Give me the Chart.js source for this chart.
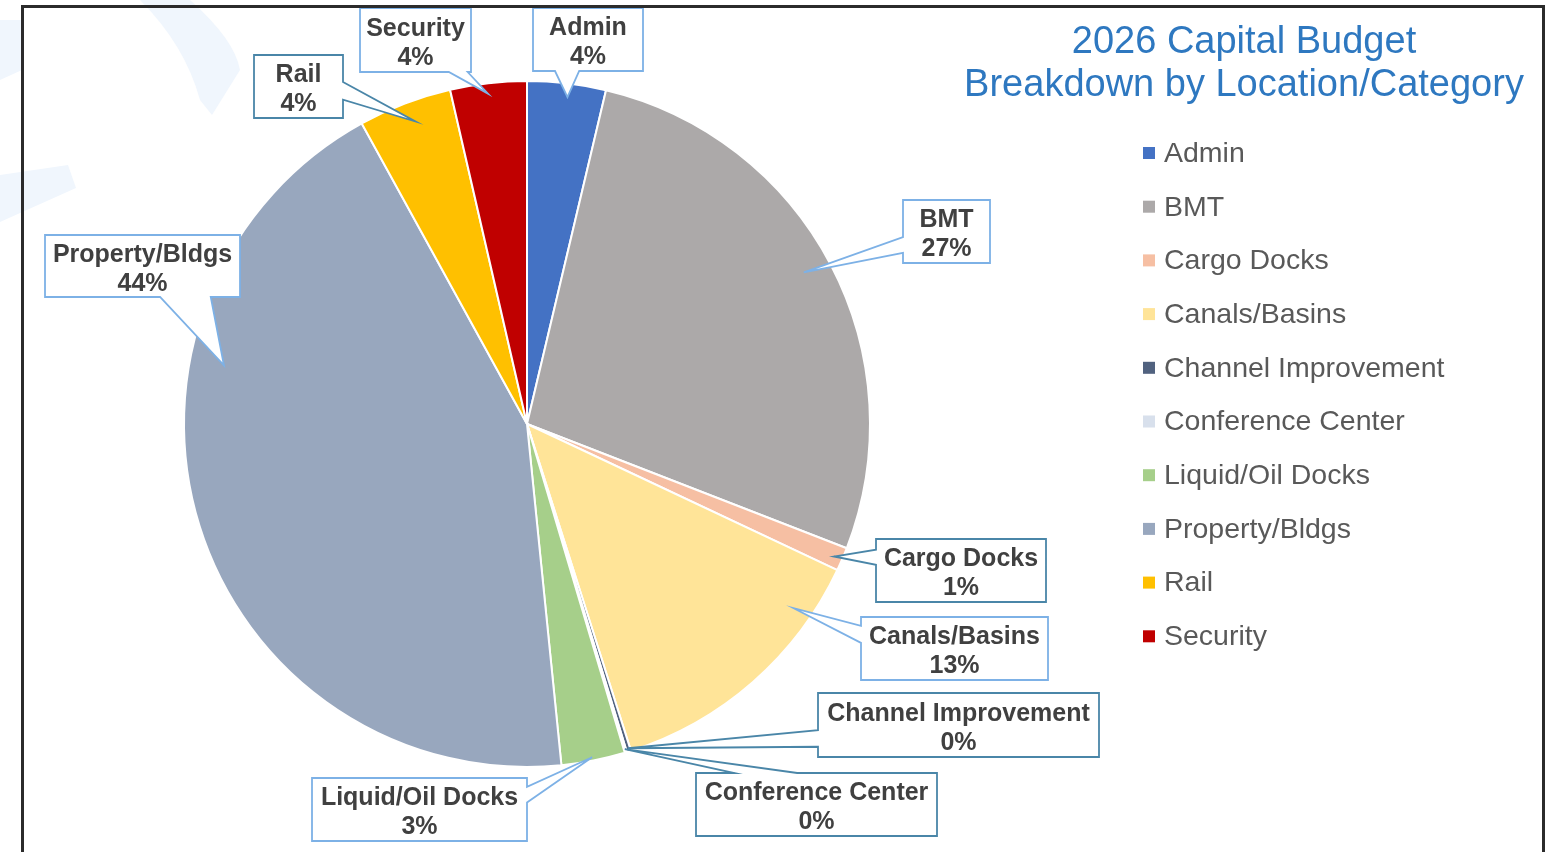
<!DOCTYPE html>
<html>
<head>
<meta charset="utf-8">
<title>2026 Capital Budget</title>
<script src="https://cdn.jsdelivr.net/npm/chart.js@4/dist/chart.umd.min.js"></script>
<style>
  html, body { margin: 0; padding: 0; background: #fff; }
  #wrap { width: 1568px; height: 852px; }
</style>
</head>
<body>
<div id="wrap"><canvas id="budgetChart" width="1568" height="852"></canvas></div>
<script>
const categories = ['Admin', 'BMT', 'Cargo Docks', 'Canals/Basins', 'Channel Improvement',
    'Conference Center', 'Liquid/Oil Docks', 'Property/Bldgs', 'Rail', 'Security'];
const shares = [3.7, 27.2, 1.1, 13.1, 0.2, 0.1, 3.0, 43.6, 4.4, 3.6];
const sliceColors = ['#4472C4', '#ACA9A9', '#F6BFA3', '#FFE498', '#51627F',
    '#D8E0EC', '#A6CF8A', '#98A7BE', '#FFC000', '#C00000'];
const titleLines = ['2026 Capital Budget', 'Breakdown by Location/Category'];

const FONT = "'Liberation Sans', Arial, sans-serif";
const LIGHT = '#7DB1E6';
const DARK = '#4A86A8';

// callout boxes (px), wedge side + base fractions along that side,
// tip placed at fraction t across the slice and r of the radius
const callouts = [
    { box: [533, 8, 110, 63], side: 'bottom', a: 0.2, b: 0.42, t: 0.53, r: 0.96, color: LIGHT },
    { box: [903, 200, 87, 63], side: 'left', a: 0.59, b: 0.84, t: 0.49, r: 0.92, color: LIGHT },
    { box: [876, 539, 170, 63], side: 'left', a: 0.17, b: 0.41, t: 0.53, r: 0.975, color: DARK },
    { box: [861, 617, 187, 63], side: 'left', a: 0.14, b: 0.41, t: 0.2, r: 0.945, color: LIGHT },
    { box: [818, 693, 281, 64], side: 'left', a: 0.58, b: 0.84, t: 0.5, r: 0.99, color: DARK },
    { box: [696, 773, 241, 63], side: 'top', a: 0.16, b: 0.42, t: 0.5, r: 0.99, color: DARK },
    { box: [312, 778, 215, 63], side: 'right', a: 0.14, b: 0.39, t: 0.51, r: 0.99, color: LIGHT },
    { box: [45, 235, 195, 62], side: 'bottom', a: 0.59, b: 0.85, t: 0.68, r: 0.9, color: LIGHT },
    { box: [254, 55, 89, 63], side: 'right', a: 0.43, b: 0.71, t: 0.54, r: 0.94, color: DARK },
    { box: [360, 8, 111, 64], side: 'bottom', a: 0.8, b: 0.97, t: 0.48, r: 0.97, color: LIGHT },
];

const backdrop = {
    id: 'backdrop',
    beforeDraw(chart) {
        const ctx = chart.ctx;
        ctx.save();
        ctx.fillStyle = '#fff';
        ctx.fillRect(0, 0, chart.width, chart.height);
        // faint watermark
        ctx.fillStyle = '#F0F6FD';
        ctx.beginPath();
        ctx.moveTo(140, 0); ctx.lineTo(190, 0);
        ctx.quadraticCurveTo(235, 40, 240, 70);
        ctx.lineTo(212, 115); ctx.lineTo(200, 100);
        ctx.quadraticCurveTo(185, 45, 140, 0);
        ctx.fill();
        ctx.beginPath();
        ctx.moveTo(0, 175); ctx.lineTo(68, 165); ctx.lineTo(76, 188);
        ctx.lineTo(0, 222);
        ctx.fill();
        ctx.beginPath();
        ctx.moveTo(0, 20); ctx.lineTo(22, 20); ctx.lineTo(22, 70); ctx.lineTo(0, 80);
        ctx.fill();
        ctx.restore();
    },
    afterDraw(chart) {
        const ctx = chart.ctx;
        ctx.save();
        ctx.strokeStyle = '#2b2b2b';
        ctx.lineWidth = 3;
        ctx.strokeRect(22.5, 6.5, 1521, 900);

        // title
        ctx.fillStyle = '#2E78C0';
        ctx.font = `38px ${FONT}`;
        ctx.textAlign = 'center';
        ctx.textBaseline = 'middle';
        titleLines.forEach((line, i) => ctx.fillText(line, 1244, 43 + i * 43));

        // legend
        const colors = chart.data.datasets[0].backgroundColor;
        ctx.font = `28.5px ${FONT}`;
        ctx.textAlign = 'left';
        chart.data.labels.forEach((lab, i) => {
            const y = 153 + i * 53.7;
            ctx.fillStyle = colors[i];
            ctx.fillRect(1143, y - 6, 12, 12);
            ctx.fillStyle = '#595959';
            ctx.fillText(lab, 1164, y + 1);
        });
        ctx.restore();
    }
};

const calloutPlugin = {
    id: 'callouts',
    afterDatasetsDraw(chart) {
        const ctx = chart.ctx;
        const meta = chart.getDatasetMeta(0);
        const total = shares.reduce((s, v) => s + v, 0);
        ctx.save();
        meta.data.forEach((arc, i) => {
            const c = callouts[i];
            const p = arc.getProps(['x', 'y', 'startAngle', 'endAngle', 'outerRadius'], true);
            const ang = p.startAngle + c.t * (p.endAngle - p.startAngle);
            const tx = p.x + Math.cos(ang) * p.outerRadius * c.r;
            const ty = p.y + Math.sin(ang) * p.outerRadius * c.r;
            const [x, y, w, h] = c.box;
            ctx.beginPath();
            ctx.moveTo(x, y);
            if (c.side === 'top') {
                ctx.lineTo(x + c.a * w, y); ctx.lineTo(tx, ty); ctx.lineTo(x + c.b * w, y);
            }
            ctx.lineTo(x + w, y);
            if (c.side === 'right') {
                ctx.lineTo(x + w, y + c.a * h); ctx.lineTo(tx, ty); ctx.lineTo(x + w, y + c.b * h);
            }
            ctx.lineTo(x + w, y + h);
            if (c.side === 'bottom') {
                ctx.lineTo(x + c.b * w, y + h); ctx.lineTo(tx, ty); ctx.lineTo(x + c.a * w, y + h);
            }
            ctx.lineTo(x, y + h);
            if (c.side === 'left') {
                ctx.lineTo(x, y + c.b * h); ctx.lineTo(tx, ty); ctx.lineTo(x, y + c.a * h);
            }
            ctx.closePath();
            ctx.fillStyle = '#fff';
            ctx.fill();
            ctx.strokeStyle = c.color;
            ctx.lineWidth = 1.8;
            ctx.lineJoin = 'miter';
            ctx.stroke();

            ctx.fillStyle = '#404040';
            ctx.font = `bold 25px ${FONT}`;
            ctx.textAlign = 'center';
            ctx.textBaseline = 'middle';
            const pct = Math.round(shares[i] / total * 100) + '%';
            ctx.fillText(chart.data.labels[i], x + w / 2, y + h / 2 - 11);
            ctx.fillText(pct, x + w / 2, y + h / 2 + 18);
        });
        ctx.restore();
    }
};

const budgetChart = new Chart(document.getElementById('budgetChart'), {
    type: 'pie',
    data: {
        labels: categories,
        datasets: [{
            data: shares,
            backgroundColor: sliceColors,
            borderColor: '#fff',
            borderWidth: 2,
        }],
    },
    options: {
        responsive: false,
        animation: false,
        layout: { padding: { top: 80, bottom: 84, left: 183, right: 697 } },
        plugins: {
            legend: { display: false },
            tooltip: { enabled: false },
        },
    },
    plugins: [backdrop, calloutPlugin],
});
</script>
</body>
</html>
